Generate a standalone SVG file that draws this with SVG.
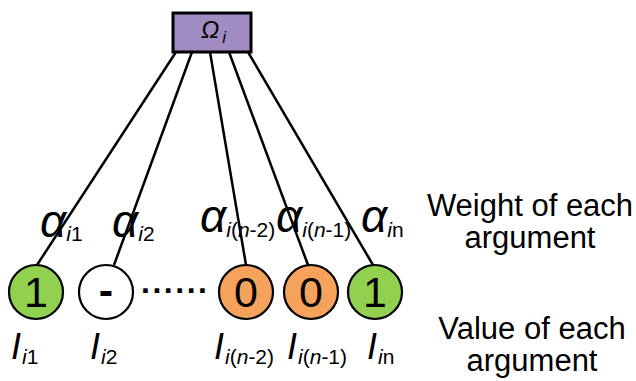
<svg xmlns="http://www.w3.org/2000/svg" width="636" height="381" viewBox="0 0 636 381">
<style>
.ln{stroke:#000;stroke-width:2.5;fill:none}
.nd{stroke:#000;stroke-width:2.2}
.g{fill:#92D050}.o{fill:#F5A25C}.w{fill:#fff}
.t{font-family:"Liberation Sans",Arial,sans-serif;fill:#000}
.v{font-size:43px;text-anchor:middle}
.al{font-size:46px;font-style:italic}
.sb{font-size:21px}
.it{font-style:italic}
.n{font-style:normal}
.bi{font-size:36px;font-style:italic}
.cap{font-size:31px;text-anchor:middle}
</style>
<rect width="636" height="381" fill="#fff"/>
<g id="connectors">
<line class="ln" x1="176" y1="52" x2="37" y2="265"/>
<line class="ln" x1="192" y1="52" x2="114" y2="265"/>
<line class="ln" x1="210" y1="52" x2="246" y2="265"/>
<line class="ln" x1="229" y1="52" x2="308" y2="265"/>
<line class="ln" x1="248" y1="52" x2="373" y2="265"/>
</g>
<g id="omega">
<rect x="173" y="13" width="78" height="39" fill="#A08CC2" stroke="#000" stroke-width="3"/>
<text class="t" x="201" y="38" font-size="24" font-style="italic" fill="#222">Ω<tspan font-size="17" dy="5" dx="3">i</tspan></text>
</g>
<g id="n1">
<circle class="nd g" cx="36" cy="292" r="27"/>
<text class="t v" x="36" y="307">1</text>
</g>
<g id="n2">
<circle class="nd w" cx="106" cy="292" r="27"/>
<text class="t v" x="106" y="305" font-weight="bold">-</text>
</g>
<g id="dots">
<text class="t" x="141" y="293" font-size="32" font-weight="bold" textLength="66" lengthAdjust="spacing">......</text>
</g>
<g id="n3">
<circle class="nd o" cx="246" cy="292" r="27"/>
<text class="t v" x="246" y="307">0</text>
</g>
<g id="n4">
<circle class="nd o" cx="311" cy="292" r="27"/>
<text class="t v" x="311" y="307">0</text>
</g>
<g id="n5">
<circle class="nd g" cx="375" cy="292" r="27"/>
<text class="t v" x="375" y="307">1</text>
</g>
<g id="weights">
<text class="t al" x="40" y="237">α<tspan class="sb" dy="4"><tspan class="it">i</tspan><tspan class="n">1</tspan></tspan></text>
<text class="t al" x="112" y="237">α<tspan class="sb" dy="4"><tspan class="it">i</tspan><tspan class="n">2</tspan></tspan></text>
<text class="t al" x="200" y="232">α<tspan class="sb" dy="5"><tspan class="it">i</tspan><tspan class="n">(</tspan><tspan class="it">n</tspan><tspan class="n">-2)</tspan></tspan></text>
<text class="t al" x="276" y="232">α<tspan class="sb" dy="5"><tspan class="it">i</tspan><tspan class="n">(</tspan><tspan class="it">n</tspan><tspan class="n">-1)</tspan></tspan></text>
<text class="t al" x="361" y="232">α<tspan class="sb" dy="5"><tspan class="it">i</tspan><tspan class="n">n</tspan></tspan></text>
</g>
<g id="values">
<text class="t bi" x="11" y="359">I<tspan class="sb" dy="5" dx="1"><tspan class="it">i</tspan><tspan class="n">1</tspan></tspan></text>
<text class="t bi" x="90" y="359">I<tspan class="sb" dy="5" dx="1"><tspan class="it">i</tspan><tspan class="n">2</tspan></tspan></text>
<text class="t bi" x="214" y="359">I<tspan class="sb" dy="5" dx="1"><tspan class="it">i</tspan><tspan class="n">(</tspan><tspan class="it">n</tspan><tspan class="n">-2)</tspan></tspan></text>
<text class="t bi" x="287" y="359">I<tspan class="sb" dy="5" dx="1"><tspan class="it">i</tspan><tspan class="n">(</tspan><tspan class="it">n</tspan><tspan class="n">-1)</tspan></tspan></text>
<text class="t bi" x="367" y="359">I<tspan class="sb" dy="5" dx="1"><tspan class="it">i</tspan><tspan class="n">n</tspan></tspan></text>
</g>
<g id="legend">
<text class="t cap" x="530" y="216">Weight of each</text>
<text class="t cap" x="530" y="248">argument</text>
<text class="t cap" x="532" y="339">Value of each</text>
<text class="t cap" x="532" y="371">argument</text>
</g>
</svg>
